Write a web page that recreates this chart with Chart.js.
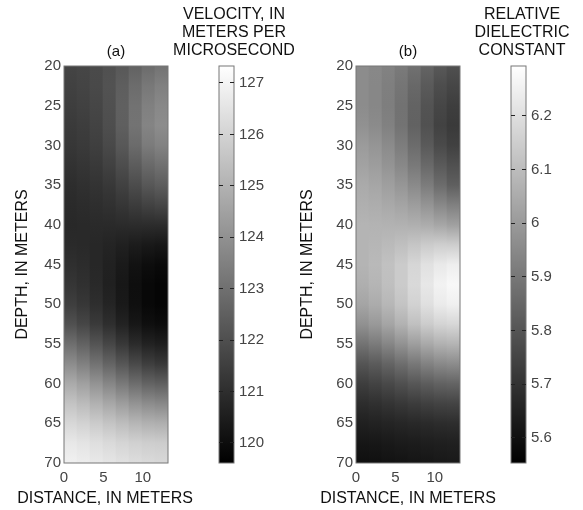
<!DOCTYPE html>
<html>
<head>
<meta charset="utf-8">
<script src="https://cdn.jsdelivr.net/npm/chart.js@4.4.1/dist/chart.umd.min.js"></script>
<style>
  body { margin: 0; background: #fff; }
  #wrap { position: relative; width: 583px; height: 510px; }
  canvas { position: absolute; top: 0; }
</style>
</head>
<body>
<div id="wrap">
  <canvas id="mapA" width="210" height="510" style="left:0px"></canvas>
  <canvas id="barA" width="140" height="510" style="left:164px"></canvas>
  <canvas id="mapB" width="224" height="510" style="left:296px"></canvas>
  <canvas id="barB" width="110" height="510" style="left:467px"></canvas>
</div>
<script>
// sample grid: column centres along distance, nodes along depth (meters)
const distanceCols = [0.8, 2.5, 4.1, 5.8, 7.4, 9.1, 10.7, 12.4];
const depthNodes = [20, 22.5, 25, 27.5, 30, 32.5, 35, 37.5, 40, 42.5, 45, 47.5, 50, 52.5, 55, 57.5, 60, 62.5, 65, 67.5, 70];

// colour limits of the two colorbars
const velocityRange = [119.61, 127.33];
const dielectricRange = [5.553, 6.293];

// (a) velocity, meters per microsecond; one row per depth node
const velocity = [
  [121.67, 121.73, 121.85, 122.03, 122.27, 122.58, 122.88, 123.09],
  [121.58, 121.67, 121.82, 122.09, 122.46, 122.88, 123.24, 123.49],
  [121.49, 121.58, 121.73, 122.03, 122.52, 123.06, 123.49, 123.73],
  [121.37, 121.46, 121.64, 121.97, 122.49, 123.09, 123.61, 123.85],
  [121.28, 121.37, 121.52, 121.82, 122.27, 122.85, 123.33, 123.55],
  [121.12, 121.21, 121.34, 121.58, 121.94, 122.40, 122.79, 123.00],
  [120.97, 121.06, 121.15, 121.31, 121.58, 121.91, 122.24, 122.43],
  [120.88, 120.94, 121.00, 121.09, 121.24, 121.43, 121.61, 121.73],
  [120.82, 120.85, 120.88, 120.88, 120.91, 120.94, 120.94, 120.94],
  [120.88, 120.85, 120.79, 120.70, 120.58, 120.46, 120.37, 120.31],
  [121.03, 120.94, 120.79, 120.61, 120.40, 120.15, 120.00, 119.91],
  [121.21, 121.06, 120.85, 120.58, 120.31, 120.03, 119.85, 119.76],
  [121.49, 121.28, 121.00, 120.70, 120.37, 120.06, 119.85, 119.76],
  [122.03, 121.73, 121.37, 121.00, 120.64, 120.31, 120.06, 119.97],
  [122.94, 122.58, 122.15, 121.73, 121.31, 120.91, 120.64, 120.52],
  [123.85, 123.49, 123.06, 122.64, 122.21, 121.82, 121.49, 121.31],
  [124.76, 124.45, 124.06, 123.67, 123.27, 122.91, 122.61, 122.49],
  [125.51, 125.27, 124.97, 124.67, 124.36, 124.06, 123.85, 123.73],
  [126.12, 125.97, 125.76, 125.54, 125.33, 125.12, 124.97, 124.91],
  [126.63, 126.51, 126.36, 126.21, 126.06, 125.94, 125.85, 125.82],
  [126.88, 126.79, 126.66, 126.54, 126.42, 126.30, 126.21, 126.15]
];

// (b) relative dielectric constant; one row per depth node
const dielectric = [
  [5.959, 5.948, 5.930, 5.907, 5.878, 5.843, 5.808, 5.785],
  [5.959, 5.945, 5.922, 5.893, 5.855, 5.814, 5.777, 5.756],
  [5.959, 5.945, 5.919, 5.884, 5.840, 5.794, 5.756, 5.733],
  [5.974, 5.956, 5.927, 5.887, 5.837, 5.788, 5.745, 5.721],
  [6.003, 5.985, 5.956, 5.916, 5.866, 5.814, 5.768, 5.742],
  [6.023, 6.009, 5.983, 5.948, 5.904, 5.858, 5.814, 5.785],
  [6.046, 6.035, 6.014, 5.988, 5.954, 5.913, 5.866, 5.829],
  [6.061, 6.055, 6.043, 6.029, 6.009, 5.983, 5.948, 5.924],
  [6.075, 6.072, 6.070, 6.067, 6.061, 6.052, 6.035, 6.017],
  [6.075, 6.081, 6.093, 6.107, 6.125, 6.142, 6.151, 6.148],
  [6.075, 6.090, 6.113, 6.142, 6.174, 6.206, 6.229, 6.244],
  [6.061, 6.078, 6.107, 6.142, 6.183, 6.223, 6.255, 6.273],
  [6.032, 6.052, 6.084, 6.122, 6.162, 6.203, 6.235, 6.250],
  [5.974, 5.997, 6.032, 6.070, 6.110, 6.145, 6.168, 6.177],
  [5.887, 5.910, 5.942, 5.977, 6.012, 6.043, 6.067, 6.075],
  [5.800, 5.817, 5.843, 5.872, 5.901, 5.930, 5.951, 5.959],
  [5.733, 5.747, 5.765, 5.785, 5.806, 5.823, 5.837, 5.843],
  [5.684, 5.692, 5.704, 5.716, 5.727, 5.739, 5.747, 5.750],
  [5.646, 5.652, 5.658, 5.663, 5.669, 5.675, 5.681, 5.684],
  [5.617, 5.620, 5.626, 5.631, 5.634, 5.640, 5.643, 5.646],
  [5.597, 5.599, 5.605, 5.608, 5.614, 5.617, 5.623, 5.626]
];

const family = "'Liberation Sans', Arial, sans-serif";
const textColor = '#111111';
const tickColor = '#444444';
const depthTop = depthNodes[0];
const depthBottom = depthNodes[depthNodes.length - 1];

function gray(v, range) {
  const t = Math.min(1, Math.max(0, (v - range[0]) / (range[1] - range[0])));
  const c = Math.round(t * 255);
  return 'rgb(' + c + ',' + c + ',' + c + ')';
}

// each column is one bar from 20 to 70 m, shaded down its length
function columnGradient(context, values, range) {
  const chart = context.chart;
  const y = chart.scales.y;
  if (context.type !== 'data' || !chart.chartArea || !y) return '#808080';
  const col = context.dataIndex;
  const g = chart.ctx.createLinearGradient(0, y.getPixelForValue(depthTop), 0, y.getPixelForValue(depthBottom));
  depthNodes.forEach((d, r) => {
    g.addColorStop((d - depthTop) / (depthBottom - depthTop), gray(values[r][col], range));
  });
  return g;
}

const frame = {
  id: 'frame',
  afterDatasetsDraw(chart) {
    const {ctx, chartArea: a} = chart;
    ctx.save();
    ctx.strokeStyle = '#777777';
    ctx.lineWidth = 1;
    ctx.strokeRect(a.left, a.top, a.right - a.left, a.bottom - a.top);
    ctx.restore();
  }
};

function spacer(position, width) {
  return {
    type: 'linear', axis: position === 'left' || position === 'right' ? 'y' : 'x', position: position,
    afterFit: s => { s.width = width; },
    ticks: { display: false },
    grid: { display: false },
    border: { display: false }
  };
}

function heatmap(id, values, range, label, yWidth, rightWidth, yTitleTop) {
  return new Chart(document.getElementById(id), {
    type: 'bar',
    data: {
      labels: distanceCols,
      datasets: [{
        data: distanceCols.map(() => [depthTop, depthBottom]),
        backgroundColor: context => columnGradient(context, values, range),
        xAxisID: 'cols',
        yAxisID: 'y',
        barPercentage: 1,
        categoryPercentage: 1,
        borderWidth: 0
      }]
    },
    options: {
      responsive: false,
      animation: false,
      layout: { padding: { top: 43, bottom: 0, left: 0, right: 0 } },
      plugins: {
        legend: { display: false },
        tooltip: { enabled: false },
        title: {
          display: true, text: label, fullSize: false, color: textColor,
          font: { family: family, size: 15, weight: 'normal' },
          padding: { top: 0, bottom: 5 }
        },
        subtitle: {
          display: true, position: 'bottom', text: 'DISTANCE, IN METERS', color: textColor,
          font: { family: family, size: 16, weight: 'normal' },
          padding: { top: 0, bottom: 1.4 }
        }
      },
      scales: {
        cols: { type: 'category', axis: 'x', position: 'bottom', display: false, offset: true },
        x: {
          type: 'linear', position: 'bottom', min: 0, max: 13.2, offset: false,
          afterFit: s => { s.height = 26.4; },
          grid: { display: false, drawTicks: false, offset: false },
          border: { display: false },
          ticks: { stepSize: 5, includeBounds: false, padding: 6, color: tickColor, font: { family: family, size: 15 } }
        },
        y: {
          type: 'linear', position: 'left', reverse: true, min: 20, max: 70,
          afterFit: s => { s.width = yWidth; },
          grid: { display: false, drawTicks: false },
          border: { display: false },
          ticks: { stepSize: 5, padding: 3, color: tickColor, font: { family: family, size: 15 } },
          title: {
            display: true, text: 'DEPTH, IN METERS', color: textColor,
            font: { family: family, size: 16, weight: 'normal' },
            padding: { top: yTitleTop, bottom: 0 }
          }
        },
        pad: spacer('right', rightWidth)
      }
    },
    plugins: [frame]
  });
}

function colorbar(id, range, stepSize, titleLines, leftWidth, axisWidth) {
  return new Chart(document.getElementById(id), {
    type: 'bar',
    data: {
      labels: [''],
      datasets: [{
        data: [range.slice()],
        backgroundColor: function (context) {
          const area = context.chart.chartArea;
          if (!area) return '#808080';
          const g = context.chart.ctx.createLinearGradient(0, area.bottom, 0, area.top);
          g.addColorStop(0, '#000000');
          g.addColorStop(1, '#ffffff');
          return g;
        },
        barPercentage: 1,
        categoryPercentage: 1,
        borderWidth: 0
      }]
    },
    options: {
      responsive: false,
      animation: false,
      layout: { padding: { top: 6, bottom: 47, left: 0, right: 0 } },
      plugins: {
        legend: { display: false },
        tooltip: { enabled: false },
        title: {
          display: true, text: titleLines, color: textColor,
          font: { family: family, size: 16, weight: 'normal', lineHeight: 1.125 },
          padding: { top: 0, bottom: 6 }
        }
      },
      scales: {
        x: { display: false },
        y: {
          position: 'right', min: range[0], max: range[1],
          afterFit: s => { s.width = axisWidth; },
          grid: { color: '#222222', z: 1, drawTicks: false },
          border: { display: false, dash: [4, 7] },
          ticks: {
            stepSize: stepSize, includeBounds: false, padding: 5, color: tickColor,
            font: { family: family, size: 15 },
            callback: v => String(+Number(v).toFixed(1))
          }
        },
        pad: spacer('left', leftWidth)
      }
    },
    plugins: [frame]
  });
}

heatmap('mapA', velocity, velocityRange, '(a)', 64, 42, 12.9);
colorbar('barA', velocityRange, 1, ['VELOCITY, IN', 'METERS PER', 'MICROSECOND'], 55, 70);
heatmap('mapB', dielectric, dielectricRange, '(b)', 60, 60, 1.9);
colorbar('barB', dielectricRange, 0.1, ['RELATIVE', 'DIELECTRIC', 'CONSTANT'], 44, 51);
</script>
</body>
</html>
